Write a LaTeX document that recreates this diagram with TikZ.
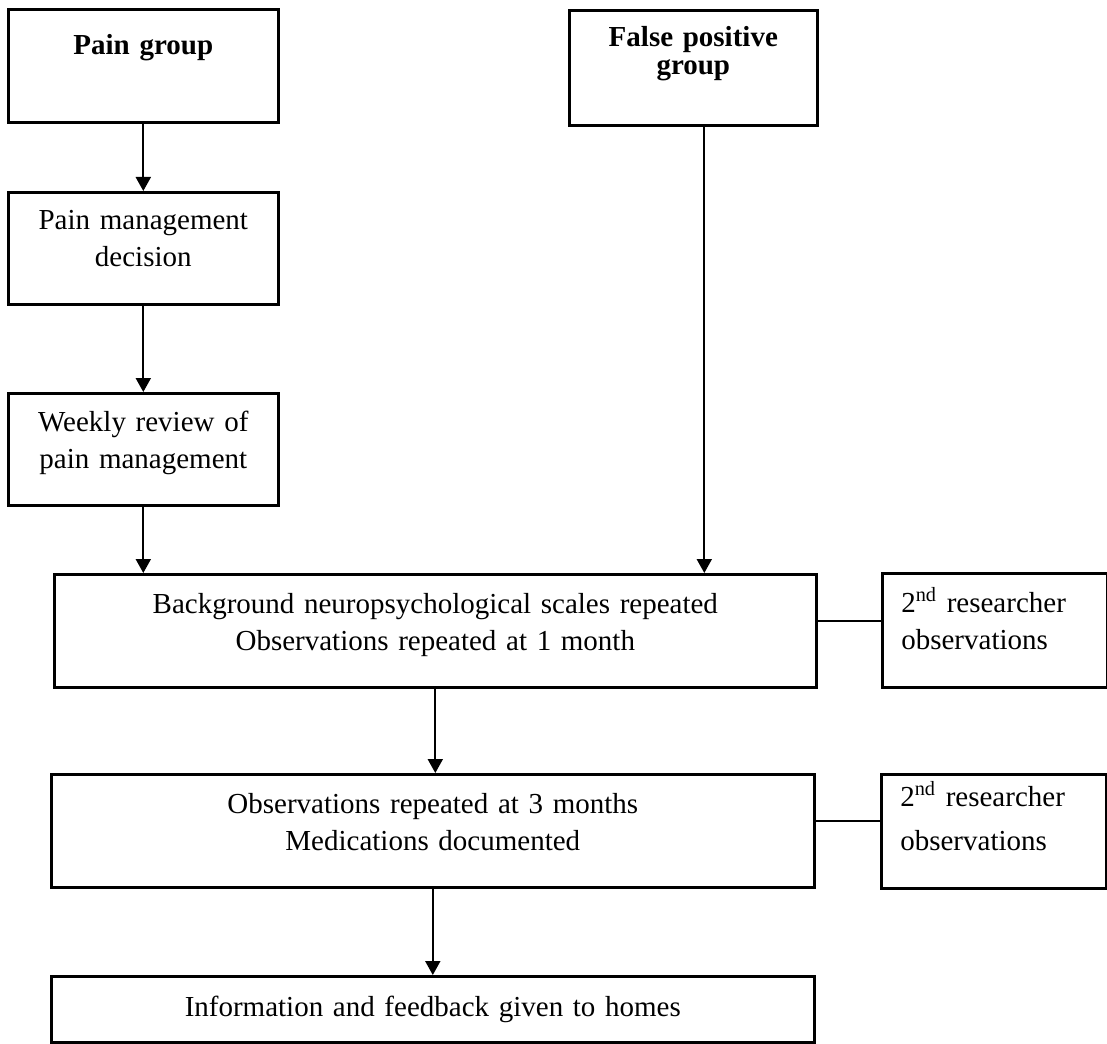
\documentclass[tikz,border=0pt]{standalone}
\usepackage{fontspec}
\setmainfont{Liberation Serif}
\usetikzlibrary{positioning, arrows.meta}

\begin{document}
\begin{tikzpicture}[x=0.5pt,y=-0.5pt,
  font=\fontsize{14.5}{18.5}\selectfont,
  box/.style={draw, line width=1.3pt, anchor=north west, inner sep=0pt, align=center},
  side/.style={box, align=left, inner xsep=9.5pt, text width=93.5pt, text height=19.5pt, text depth=37.5pt},
  flow/.style={line width=1pt, -{Triangle[length=7pt,width=7.5pt]}},
  link/.style={line width=1pt}]
  \useasboundingbox (0,0) rectangle (1107,1043);

  % left column
  \node[box, text width=135pt, text height=22.5pt, text depth=34pt,
        font=\fontsize{14.5}{14}\selectfont\bfseries] (pain) at (7,8) {Pain group};
  \node[box, text width=135pt, text height=18.5pt, text depth=37.5pt] (pmd) at (7,191)
       {Pain management\\decision};
  \node[box, text width=135pt, text height=19pt, text depth=37pt] (weekly) at (7,392)
       {Weekly review of\\pain management};

  % right group
  \node[box, text width=124pt, text height=18pt, text depth=39.5pt,
        font=\fontsize{14.5}{14}\selectfont\bfseries] (fp) at (568,9) {False positive\\group};

  % main boxes
  \node[box, text width=381pt, text height=19.5pt, text depth=37pt] (bg) at (53,573)
       {Background neuropsychological scales repeated\\Observations repeated at 1 month};
  \node[box, text width=381.5pt, text height=19.5pt, text depth=37pt] (obs3) at (50,773)
       {Observations repeated at 3 months\\Medications documented};
  \node[box, text width=381.5pt, text height=20pt, text depth=13pt] (info) at (50,975)
       {Information and feedback given to homes};

  % second researcher
  \node[side] (rA) at (881,572) {2\textsuperscript{nd} researcher\\observations};
  \node[side, text height=16pt, text depth=41pt,
        font=\fontsize{14.5}{22}\selectfont] (rB) at (880,773) {2\textsuperscript{nd} researcher\\observations};

  \draw[flow] (pain) -- (pmd);
  \draw[flow] (pmd) -- (weekly);
  \draw[flow] (weekly.south) -- (weekly.south |- bg.north);
  \draw[flow] ([xshift=5.5pt]fp.south) -- ([xshift=5.5pt]fp.south |- bg.north);
  \draw[link] ([yshift=5pt]bg.east) -- ([yshift=5pt]bg.east -| rA.west);
  \draw[flow] (bg.south) -- (bg.south |- obs3.north);
  \draw[link] ([yshift=5pt]obs3.east) -- ([yshift=5pt]obs3.east -| rB.west);
  \draw[flow] (obs3.south) -- (obs3.south |- info.north);
\end{tikzpicture}
\end{document}
